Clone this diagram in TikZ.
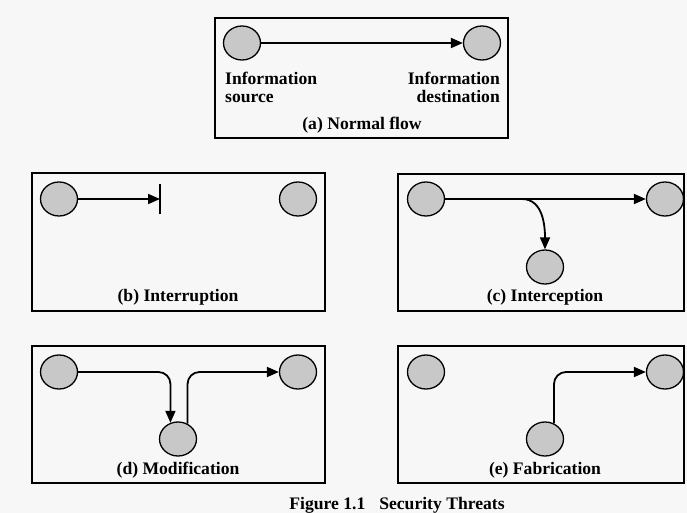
\documentclass[tikz,border=0pt]{standalone}
\usepackage{fontspec}
\setmainfont{Liberation Serif}
\usepackage{tikz}
\usetikzlibrary{arrows.meta}
\usetikzlibrary{shapes.geometric}
\usetikzlibrary{positioning}
\definecolor{PageGray}{RGB}{247,247,247}
\definecolor{HostGray}{RGB}{200,200,200}
\tikzstyle{host} = [ellipse, draw, fill=HostGray, line width=1.3pt, minimum width=37pt, minimum height=34pt, inner sep=0pt]
\tikzstyle{panel} = [draw, line width=1.3pt]
\tikzstyle{arrow} = [line width=1.8pt, -{Triangle[length=12pt,width=10pt]}, rounded corners=12pt]
\tikzstyle{caption} = [font=\bfseries\fontsize{17.6}{17.5}\selectfont, inner sep=0pt]

\begin{document}
\begin{tikzpicture}[x=1pt,y=-1pt]
                
                \fill[PageGray] (0,0) rectangle (687,513);
                \useasboundingbox (0,0) rectangle (687,513);
                
                % (a) normal flow
                \draw[panel] (215,18) rectangle (508,138);
                \node[host] (a1) at (242,43) {};
                \node[host] (a2) at (482,43) {};
                \draw[arrow] (a1) -- (a2);
                \node[caption, anchor=north west, align=left] (asrc) at (225,72) {Information\\source};
                \node[caption, anchor=north east, align=right] (adst) at (500,72) {Information\\destination};
                \node[caption] (acap) at (362,125) {(a) Normal flow};
                
                % (b) interruption
                \draw[panel] (32,173) rectangle (325,311);
                \node[host] (b1) at (59,199) {};
                \node[host] (b2) at (298,199) {};
                \coordinate (bcut) at (160,199);
                \draw[arrow] (b1) -- (bcut);
                \draw[line width=1.8pt] ([yshift=-15pt]bcut) -- ([yshift=15pt]bcut);
                \node[caption] (bcap) at (178,297) {(b) Interruption};
                
                % (c) interception
                \draw[panel] (398,174) rectangle (684,311);
                \node[host] (c1) at (426,199) {};
                \node[host] (c2) at (665,199) {};
                \node[host] (c3) at (545,267) {};
                \coordinate (csplit) at (522,199);
                \draw[arrow] (c1) -- (c2);
                \draw[arrow] (csplit) to[out=0, in=90] (c3);
                \node[caption] (ccap) at (545,297) {(c) Interception};
                
                % (d) modification
                \draw[panel] (32,346) rectangle (325,483);
                \node[host] (d1) at (59,372) {};
                \node[host] (d2) at (298,372) {};
                \node[host] (d3) at (178,439) {};
                \draw[arrow] (d1) -| (d3.115);
                \draw[arrow] (d3.58) |- (d2);
                \node[caption] (dcap) at (178,470) {(d) Modification};
                
                % (e) fabrication
                \draw[panel] (398,346) rectangle (684,483);
                \node[host] (e1) at (426,372) {};
                \node[host] (e2) at (665,372) {};
                \node[host] (e3) at (545,439) {};
                \draw[arrow] (e3.60) |- (e2);
                \node[caption] (ecap) at (545,470) {(e) Fabrication};
                
                \node[caption] (fig) at (397,505) {Figure 1.1\hspace{14pt}Security Threats};
            \end{tikzpicture}
\end{document}
